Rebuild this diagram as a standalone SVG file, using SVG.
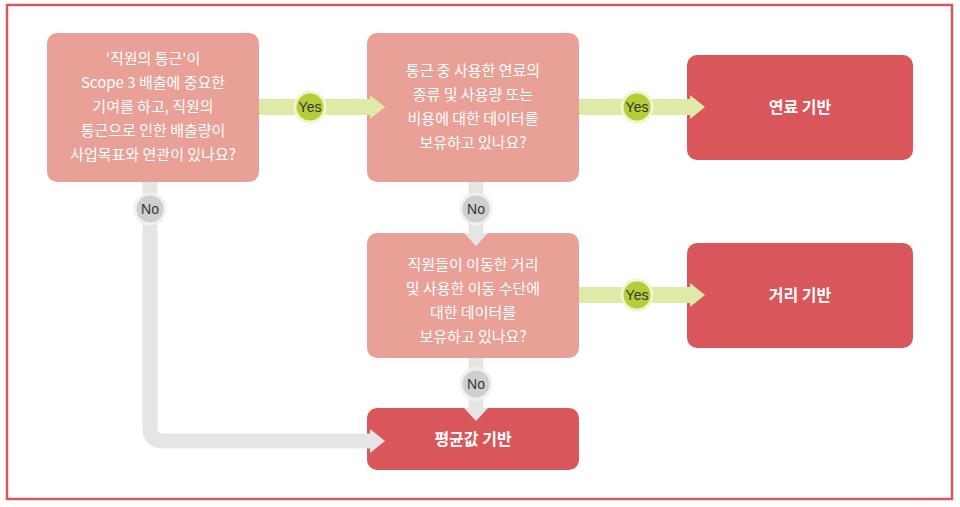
<svg xmlns="http://www.w3.org/2000/svg" width="960" height="507" viewBox="0 0 960 507">
<style>
.q{fill:#e8a097}
.r{fill:#d9575a}
.t{font-family:"Noto Sans CJK KR","Noto Sans",sans-serif;fill:#fff;font-size:15px;text-anchor:middle}
.b{font-weight:bold;font-size:16px}
.g{fill:none;stroke:#dfeaa6;stroke-width:16}
.n{fill:none;stroke:#e5e5e5;stroke-width:15}
.ah{fill:#dfeaa6}.nh{fill:#e5e5e5}
.yc{fill:#b6cc38;stroke:#f0f5cf;stroke-width:3}
.nc{fill:#cfcfcf;stroke:#f0f0f0;stroke-width:3}
.lt{font-family:"Liberation Sans",Arial,sans-serif;font-size:14px;fill:#333;text-anchor:middle}
</style>
<rect x="7" y="5" width="945" height="494" fill="#fff" stroke="#d9575a" stroke-width="2.5"/>
<g id="n1"><rect class="q" x="47" y="33" width="212" height="149" rx="10"/>
<text class="t" x="153" y="64">'직원의 통근'이</text><text class="t" x="153" y="88">Scope 3 배출에 중요한</text><text class="t" x="153" y="112">기여를 하고, 직원의</text><text class="t" x="153" y="136">통근으로 인한 배출량이</text><text class="t" x="153" y="160">사업목표와 연관이 있나요?</text></g>
<g id="n2"><rect class="q" x="367" y="33" width="212" height="149" rx="10"/>
<text class="t" x="473" y="76">통근 중 사용한 연료의</text><text class="t" x="473" y="100">종류 및 사용량 또는</text><text class="t" x="473" y="124">비용에 대한 데이터를</text><text class="t" x="473" y="148">보유하고 있나요?</text></g>
<g id="n3"><rect class="r" x="687" y="55" width="226" height="105" rx="10"/><text class="t b" x="800" y="113">연료 기반</text></g>
<g id="n4"><rect class="q" x="367" y="233" width="212" height="125" rx="10"/>
<text class="t" x="473" y="270">직원들이 이동한 거리</text><text class="t" x="473" y="294">및 사용한 이동 수단에</text><text class="t" x="473" y="318">대한 데이터를</text><text class="t" x="473" y="342">보유하고 있나요?</text></g>
<g id="n5"><rect class="r" x="687" y="243" width="226" height="105" rx="10"/><text class="t b" x="800" y="301">거리 기반</text></g>
<g id="n6"><rect class="r" x="367" y="408" width="212" height="62" rx="10"/><text class="t b" x="473" y="445">평균값 기반</text></g>
<g id="connectors">
<path class="g" d="M259 107H372"/><path class="ah" d="M370 95L385 107L370 119Z"/>
<path class="g" d="M579 107H692"/><path class="ah" d="M690 95L705 107L690 119Z"/>
<path class="g" d="M579 295H692"/><path class="ah" d="M690 283L705 295L690 307Z"/>
<path class="n" d="M150 182V428Q150 441 163 441H372"/><path class="nh" d="M370 429L385 441L370 453Z"/>
<path class="n" d="M476 182V235"/><path class="nh" d="M464 233L476 246L488 233Z"/>
<path class="n" d="M476 358V410"/><path class="nh" d="M464 408L476 421L488 408Z"/>
<circle class="yc" cx="310" cy="107" r="15"/><text class="lt" x="310" y="112">Yes</text>
<circle class="yc" cx="637" cy="107" r="15"/><text class="lt" x="637" y="112">Yes</text>
<circle class="yc" cx="637" cy="295" r="15"/><text class="lt" x="637" y="300">Yes</text>
<circle class="nc" cx="150" cy="209" r="15"/><text class="lt" x="150" y="214">No</text>
<circle class="nc" cx="476" cy="209" r="15"/><text class="lt" x="476" y="214">No</text>
<circle class="nc" cx="476" cy="384" r="15"/><text class="lt" x="476" y="389">No</text>
</g>
</svg>
